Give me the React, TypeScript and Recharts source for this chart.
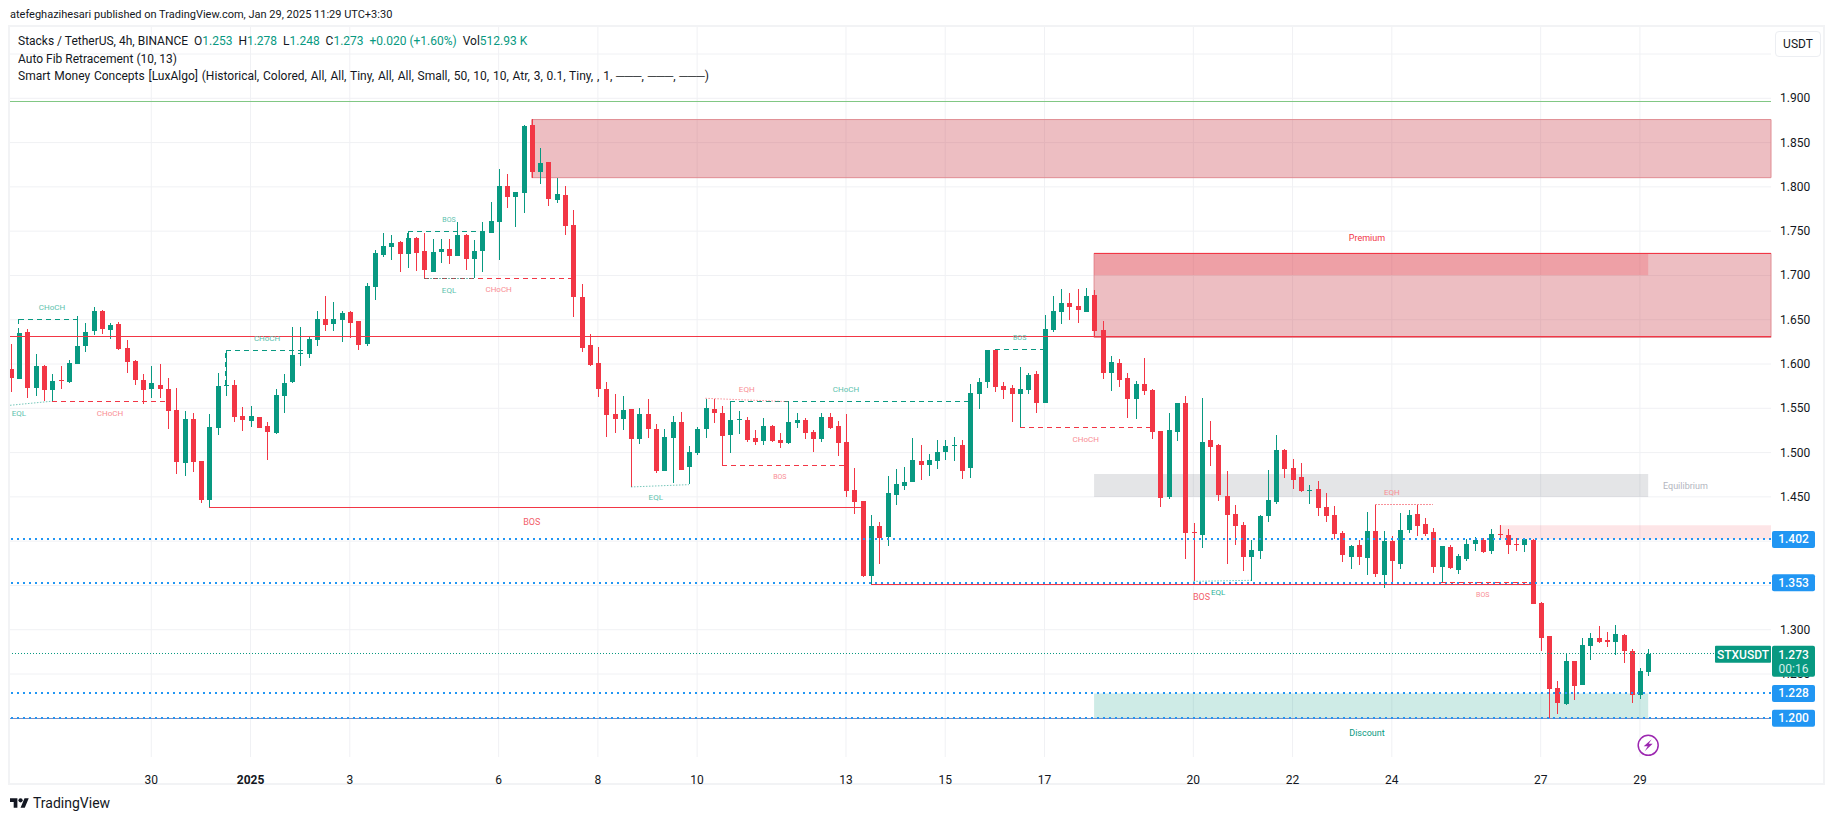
import {
    Bar,
    CartesianGrid,
    ComposedChart,
    ReferenceArea,
    ReferenceDot,
    ReferenceLine,
    XAxis,
    YAxis,
} from 'recharts';

const UP = '#089981';
const DOWN = '#f23645';
const BLUE = '#2196f3';
const FONT = 'Roboto, sans-serif';

const opens = [
    1.594, 1.583, 1.636, 1.573, 1.598, 1.571, 1.582, 1.579, 1.600, 1.620,
    1.637, 1.660, 1.638, 1.645, 1.618, 1.603, 1.582, 1.571, 1.576, 1.572,
    1.548, 1.488, 1.538, 1.491, 1.447, 1.528, 1.575, 1.576, 1.541, 1.535,
    1.540, 1.530, 1.522, 1.564, 1.579, 1.611, 1.611, 1.627, 1.651, 1.645,
    1.650, 1.659, 1.649, 1.622, 1.687, 1.723, 1.732, 1.738, 1.724, 1.742,
    1.728, 1.704, 1.727, 1.730, 1.722, 1.746, 1.719, 1.727, 1.749, 1.760,
    1.801, 1.788, 1.793, 1.870, 1.817, 1.828, 1.785, 1.791, 1.757, 1.676,
    1.622, 1.601, 1.572, 1.543, 1.538, 1.549, 1.515, 1.543, 1.527, 1.480,
    1.517, 1.535, 1.484, 1.500, 1.526, 1.549, 1.545, 1.520, 1.537, 1.537,
    1.517, 1.513, 1.530, 1.514, 1.511, 1.534, 1.537, 1.523, 1.515, 1.540,
    1.530, 1.512, 1.458, 1.445, 1.361, 1.417, 1.404, 1.453, 1.463, 1.467,
    1.491, 1.486, 1.491, 1.500, 1.508, 1.509, 1.482, 1.566, 1.580, 1.616,
    1.575, 1.573, 1.566, 1.571, 1.589, 1.556, 1.638, 1.659, 1.669, 1.665,
    1.659, 1.678, 1.638, 1.590, 1.601, 1.584, 1.560, 1.577, 1.571, 1.524,
    1.449, 1.523, 1.556, 1.410, 1.407, 1.514, 1.509, 1.451, 1.431, 1.418,
    1.382, 1.389, 1.428, 1.444, 1.503, 1.483, 1.472, 1.457, 1.459, 1.438,
    1.430, 1.409, 1.383, 1.396, 1.382, 1.412, 1.362, 1.400, 1.375, 1.413,
    1.431, 1.419, 1.410, 1.371, 1.393, 1.367, 1.380, 1.396, 1.401, 1.389,
    1.408, 1.407, 1.397, 1.395, 1.401, 1.330, 1.293, 1.234, 1.217, 1.265,
    1.238, 1.282, 1.291, 1.288, 1.286, 1.294, 1.276, 1.226, 1.253,
];

const highs = [
    1.623, 1.635, 1.639, 1.611, 1.599, 1.589, 1.598, 1.604, 1.654, 1.646,
    1.664, 1.661, 1.646, 1.647, 1.627, 1.605, 1.589, 1.598, 1.600, 1.584,
    1.573, 1.547, 1.545, 1.491, 1.543, 1.590, 1.616, 1.582, 1.552, 1.553,
    1.540, 1.535, 1.572, 1.589, 1.642, 1.642, 1.632, 1.660, 1.677, 1.670,
    1.660, 1.660, 1.649, 1.691, 1.729, 1.748, 1.746, 1.739, 1.750, 1.743,
    1.748, 1.741, 1.741, 1.741, 1.760, 1.747, 1.740, 1.760, 1.783, 1.820,
    1.815, 1.794, 1.870, 1.877, 1.844, 1.828, 1.810, 1.801, 1.774, 1.690,
    1.634, 1.619, 1.580, 1.566, 1.564, 1.549, 1.550, 1.561, 1.532, 1.527,
    1.541, 1.546, 1.507, 1.529, 1.561, 1.560, 1.553, 1.558, 1.547, 1.540,
    1.526, 1.539, 1.531, 1.522, 1.557, 1.545, 1.539, 1.526, 1.545, 1.545,
    1.536, 1.544, 1.483, 1.445, 1.430, 1.422, 1.473, 1.482, 1.484, 1.517,
    1.509, 1.498, 1.514, 1.514, 1.518, 1.514, 1.577, 1.584, 1.616, 1.617,
    1.580, 1.576, 1.597, 1.590, 1.592, 1.655, 1.677, 1.685, 1.680, 1.685,
    1.686, 1.684, 1.649, 1.609, 1.606, 1.590, 1.581, 1.607, 1.572, 1.524,
    1.545, 1.556, 1.564, 1.420, 1.562, 1.536, 1.510, 1.479, 1.441, 1.422,
    1.401, 1.429, 1.480, 1.520, 1.504, 1.493, 1.488, 1.463, 1.468, 1.454,
    1.440, 1.412, 1.396, 1.401, 1.433, 1.441, 1.412, 1.406, 1.432, 1.435,
    1.441, 1.426, 1.415, 1.395, 1.396, 1.386, 1.402, 1.405, 1.403, 1.414,
    1.418, 1.414, 1.404, 1.404, 1.402, 1.331, 1.293, 1.242, 1.273, 1.265,
    1.291, 1.296, 1.304, 1.297, 1.305, 1.295, 1.278, 1.257, 1.278,
];

const lows = [
    1.568, 1.583, 1.562, 1.564, 1.558, 1.558, 1.572, 1.579, 1.600, 1.614,
    1.633, 1.634, 1.628, 1.616, 1.590, 1.576, 1.555, 1.562, 1.562, 1.527,
    1.476, 1.473, 1.478, 1.443, 1.438, 1.520, 1.564, 1.535, 1.524, 1.529,
    1.528, 1.492, 1.521, 1.545, 1.579, 1.598, 1.607, 1.620, 1.637, 1.637,
    1.625, 1.629, 1.616, 1.620, 1.672, 1.721, 1.717, 1.704, 1.708, 1.705,
    1.697, 1.704, 1.714, 1.713, 1.722, 1.706, 1.697, 1.704, 1.749, 1.717,
    1.776, 1.755, 1.771, 1.810, 1.803, 1.778, 1.782, 1.746, 1.653, 1.614,
    1.598, 1.563, 1.518, 1.522, 1.526, 1.461, 1.510, 1.517, 1.477, 1.479,
    1.466, 1.480, 1.464, 1.497, 1.517, 1.533, 1.486, 1.500, 1.521, 1.512,
    1.509, 1.508, 1.512, 1.505, 1.510, 1.528, 1.515, 1.501, 1.512, 1.527,
    1.496, 1.450, 1.431, 1.360, 1.351, 1.374, 1.395, 1.441, 1.458, 1.467,
    1.469, 1.474, 1.482, 1.492, 1.491, 1.470, 1.471, 1.549, 1.573, 1.568,
    1.560, 1.535, 1.529, 1.566, 1.545, 1.556, 1.636, 1.645, 1.650, 1.646,
    1.659, 1.630, 1.583, 1.570, 1.574, 1.539, 1.538, 1.565, 1.515, 1.439,
    1.448, 1.513, 1.380, 1.355, 1.392, 1.485, 1.445, 1.374, 1.396, 1.366,
    1.355, 1.380, 1.422, 1.442, 1.471, 1.459, 1.456, 1.442, 1.428, 1.422,
    1.402, 1.376, 1.369, 1.373, 1.362, 1.360, 1.347, 1.353, 1.369, 1.409,
    1.406, 1.406, 1.364, 1.354, 1.368, 1.363, 1.378, 1.389, 1.387, 1.386,
    1.401, 1.386, 1.389, 1.388, 1.329, 1.276, 1.200, 1.205, 1.215, 1.221,
    1.238, 1.266, 1.285, 1.281, 1.272, 1.262, 1.217, 1.222, 1.248,
];

const closes = [
    1.584, 1.635, 1.573, 1.598, 1.571, 1.581, 1.581, 1.601, 1.620, 1.636,
    1.660, 1.640, 1.644, 1.617, 1.602, 1.581, 1.571, 1.578, 1.571, 1.547,
    1.489, 1.538, 1.489, 1.447, 1.529, 1.575, 1.576, 1.540, 1.536, 1.541,
    1.528, 1.523, 1.565, 1.579, 1.610, 1.612, 1.628, 1.651, 1.644, 1.651,
    1.658, 1.647, 1.622, 1.688, 1.725, 1.733, 1.737, 1.725, 1.742, 1.725,
    1.706, 1.727, 1.730, 1.722, 1.746, 1.719, 1.728, 1.750, 1.762, 1.801,
    1.789, 1.794, 1.869, 1.817, 1.827, 1.786, 1.792, 1.756, 1.676, 1.618,
    1.599, 1.572, 1.543, 1.537, 1.548, 1.515, 1.543, 1.526, 1.480, 1.518,
    1.535, 1.481, 1.501, 1.527, 1.550, 1.545, 1.519, 1.537, 1.538, 1.514,
    1.513, 1.530, 1.513, 1.511, 1.535, 1.537, 1.522, 1.515, 1.540, 1.528,
    1.511, 1.457, 1.444, 1.360, 1.417, 1.403, 1.454, 1.465, 1.467, 1.492,
    1.487, 1.492, 1.501, 1.507, 1.509, 1.480, 1.567, 1.580, 1.616, 1.574,
    1.571, 1.566, 1.572, 1.588, 1.556, 1.639, 1.660, 1.669, 1.665, 1.661,
    1.677, 1.637, 1.590, 1.602, 1.582, 1.560, 1.577, 1.569, 1.524, 1.448,
    1.525, 1.556, 1.409, 1.409, 1.512, 1.506, 1.452, 1.430, 1.417, 1.382,
    1.390, 1.428, 1.446, 1.503, 1.481, 1.470, 1.456, 1.458, 1.437, 1.428,
    1.409, 1.384, 1.395, 1.382, 1.412, 1.363, 1.400, 1.377, 1.413, 1.430,
    1.418, 1.408, 1.370, 1.395, 1.369, 1.383, 1.397, 1.401, 1.388, 1.408,
    1.407, 1.396, 1.396, 1.402, 1.329, 1.291, 1.233, 1.217, 1.265, 1.237,
    1.283, 1.291, 1.287, 1.286, 1.295, 1.276, 1.226, 1.253, 1.273,
];

const candles = opens.map((open, i) => ({
    i,
    open,
    close: closes[i],
    range: [lows[i], highs[i]],
}));

// date labels sit on every second day, one bar is 4h
const dateTicks = [17, 29, 41, 59, 71, 83, 101, 113, 125, 143, 155, 167, 185, 197];
const dateLabels = ['30', '2025', '3', '6', '8', '10', '13', '15', '17', '20', '22', '24', '27', '29'];

const gridPrices = [1.2, 1.25, 1.3, 1.35, 1.4, 1.45, 1.5, 1.55, 1.6, 1.65, 1.7, 1.75, 1.8, 1.85, 1.9, 1.95];
const axisPrices = [1.2, 1.228, 1.25, 1.273, 1.3, 1.353, 1.402, 1.45, 1.5, 1.55, 1.6, 1.65, 1.7, 1.75, 1.8, 1.85, 1.9];
const blueTags = [1.2, 1.228, 1.353, 1.402];
const lastPrice = 1.273;

// [bar from, price from, bar to, price to]
const dashedGreen = [
    [1, 1.635, 1, 1.6505], [1, 1.6505, 8, 1.6505],
    [26, 1.576, 26, 1.6155], [26, 1.6155, 36, 1.6155],
    [48, 1.742, 48, 1.7498], [48, 1.7498, 58, 1.7498],
    [87, 1.537, 87, 1.558], [87, 1.558, 116, 1.558],
    [119, 1.6166, 125, 1.6166],
];
const dashedRed = [
    [5, 1.5579, 19, 1.5579],
    [50, 1.6968, 68, 1.6968],
    [86, 1.4857, 101, 1.4857],
    [122, 1.5285, 138, 1.5285],
    [173, 1.3532, 184, 1.3532],
];
const solidRed = [
    [24, 1.4383, 103, 1.4383],
    [104, 1.3513, 184, 1.3513],
];
const dottedGreen = [
    [-0.08, 1.5534, 5, 1.558],
    [50, 1.6965, 56, 1.6965],
    [75, 1.4612, 82, 1.4638],
    [143, 1.3546, 150, 1.3558],
];
const dottedRed = [
    [84, 1.5613, 94, 1.5575],
    [165, 1.441, 172, 1.441],
];

// [text, bar, price, colour, size]
const smcLabels: [string, number, number, string, number][] = [
    ['CHoCH', 5, 1.6647, '#5cc2ae', 8],
    ['CHoCH', 12, 1.5444, '#f98d94', 8],
    ['EQL', 1, 1.5444, '#5cc2ae', 8],
    ['CHoCH', 31, 1.629, '#5cc2ae', 8],
    ['BOS', 63, 1.4216, '#f2606b', 9],
    ['BOS', 53, 1.764, '#5cc2ae', 7],
    ['CHoCH', 59, 1.6844, '#f98d94', 8],
    ['EQL', 53, 1.683, '#5cc2ae', 8],
    ['EQH', 89, 1.5715, '#f98d94', 8],
    ['CHoCH', 101, 1.5722, '#5cc2ae', 8],
    ['BOS', 93, 1.473, '#f98d94', 7],
    ['EQL', 78, 1.4503, '#5cc2ae', 8],
    ['BOS', 122, 1.631, '#5cc2ae', 7],
    ['CHoCH', 130, 1.5157, '#f98d94', 8],
    ['BOS', 144, 1.3366, '#f2606b', 9],
    ['EQL', 146, 1.3422, '#2fb39a', 8],
    ['EQH', 167, 1.4552, '#f98d94', 8],
    ['BOS', 178, 1.3408, '#f98d94', 7],
    ['Premium', 164, 1.7427, DOWN, 9],
    ['Equilibrium', 202.5, 1.4626, '#b2b5be', 9],
    ['Discount', 164, 1.1836, UP, 9],
];

const CandleShape = (props: any) => {
    const { x, y, width, height, payload } = props;
    const [low, high] = payload.range;
    const pxPerPrice = height / (high - low);
    const top = Math.max(payload.open, payload.close);
    const bottom = Math.min(payload.open, payload.close);
    const color = payload.close >= payload.open ? UP : DOWN;
    const center = Math.round(x + width / 2);
    const bodyY = y + (high - top) * pxPerPrice;
    const bodyH = Math.max((top - bottom) * pxPerPrice, 1);
    return (
        <g shapeRendering="crispEdges">
            <rect x={center - 0.5} y={y} width={1} height={height} fill={color} />
            <rect x={center - 2.5} y={Math.round(bodyY)} width={5} height={Math.max(Math.round(bodyH), 1)} fill={color} />
        </g>
    );
};

const DateTick = (props: any) => {
    const { x, y, payload } = props;
    const label = dateLabels[dateTicks.indexOf(payload.value)];
    return (
        <text
            x={x}
            y={y}
            dy={19}
            textAnchor="middle"
            fontFamily={FONT}
            fontSize={12}
            fontWeight={label === '2025' ? 700 : 400}
            fill="#131722"
        >
            {label}
        </text>
    );
};

const PriceTick = (props: any) => {
    const { y, payload } = props;
    const value = payload.value;
    const left = 1772;
    const text = value.toFixed(3);
    if (blueTags.includes(value)) {
        return (
            <g>
                <rect x={left} y={y - 8.5} width={43} height={17} rx={2} fill={BLUE} />
                <text x={left + 21.5} y={y + 4} textAnchor="middle" fontFamily={FONT} fontSize={12} fontWeight={500} fill="#fff">
                    {text}
                </text>
            </g>
        );
    }
    if (value === lastPrice) {
        return (
            <g>
                <rect x={1715} y={y - 8} width={56} height={17} rx={1} fill={UP} />
                <text x={1743} y={y + 5} textAnchor="middle" fontFamily={FONT} fontSize={12} fontWeight={500} fill="#fff">
                    STXUSDT
                </text>
                <rect x={left} y={y - 8} width={43} height={31} rx={2} fill={UP} />
                <text x={left + 21.5} y={y + 5} textAnchor="middle" fontFamily={FONT} fontSize={12} fontWeight={500} fill="#fff">
                    {text}
                </text>
                <text x={left + 21.5} y={y + 19} textAnchor="middle" fontFamily={FONT} fontSize={12} fill="#d5efe9">
                    00:16
                </text>
            </g>
        );
    }
    return (
        <text x={1780} y={y + 4} fontFamily={FONT} fontSize={12} fill="#131722">
            {text}
        </text>
    );
};

const BoltIcon = (props: any) => {
    const { cx, cy } = props;
    return (
        <g>
            <circle cx={cx} cy={cy} r={10} fill="#fff" stroke="#9c27b0" strokeWidth={1.5} />
            <path
                d={`M${cx + 3.5} ${cy - 6} L${cx - 4.5} ${cy + 1} L${cx - 0.5} ${cy + 1} L${cx - 3.5} ${cy + 6} L${cx + 4.5} ${cy - 1.5} L${cx + 0.5} ${cy - 1.5} Z`}
                fill="#9c27b0"
            />
        </g>
    );
};

const segments = (rows: number[][], color: string, dash?: string, opacity = 1) =>
    rows.map((r, idx) => (
        <ReferenceLine
            key={`${color}-${dash}-${idx}`}
            segment={[{ x: r[0], y: r[1] }, { x: r[2], y: r[3] }]}
            stroke={color}
            strokeWidth={1}
            strokeDasharray={dash}
            strokeOpacity={opacity}
            shapeRendering={r[1] === r[3] || r[0] === r[2] ? 'crispEdges' : undefined}
        />
    ));

const textStyle = { position: 'absolute', fontFamily: FONT, fontSize: 12, color: '#131722', whiteSpace: 'pre', lineHeight: '16px' } as const;

const App = () => {
    return (
        <div style={{ position: 'absolute', left: 0, top: 0, width: 1835, height: 821, background: '#fff', overflow: 'hidden' }}>
            <div style={{ position: 'absolute', left: 8, top: 25, width: 1817, height: 760, boxSizing: 'border-box', border: '2px solid #f2f3f5' }} />
            <ComposedChart
                width={1835}
                height={821}
                data={candles}
                margin={{ top: 27, right: 0, bottom: 0, left: 10 }}
                style={{ position: 'absolute', left: 0, top: 0 }}
            >
                <CartesianGrid stroke="#f0f1f4" horizontalValues={gridPrices} verticalValues={dateTicks} />
                <XAxis
                    type="number"
                    dataKey="i"
                    domain={[-0.085, 212.85]}
                    allowDataOverflow
                    ticks={dateTicks}
                    interval={0}
                    height={64}
                    tick={<DateTick />}
                    tickLine={false}
                    axisLine={false}
                />
                <YAxis
                    orientation="right"
                    type="number"
                    domain={[1.1563, 1.9805]}
                    allowDataOverflow
                    ticks={axisPrices}
                    interval={0}
                    width={64}
                    tick={<PriceTick />}
                    tickLine={false}
                    axisLine={false}
                />

                <ReferenceArea x1={63} x2={212.85} y1={1.8104} y2={1.876} fill="#cc4650" fillOpacity={0.35} stroke="#e08d93" />
                <ReferenceArea x1={131} x2={212.85} y1={1.63} y2={1.725} fill="#cc4650" fillOpacity={0.35} stroke="#e08d93" />
                <ReferenceArea x1={131} x2={198} y1={1.7002} y2={1.725} fill={DOWN} fillOpacity={0.22} />
                <ReferenceArea x1={131} x2={198} y1={1.4498} y2={1.4758} fill="#787b86" fillOpacity={0.2} />
                <ReferenceArea x1={131} x2={198} y1={1.2} y2={1.228} fill={UP} fillOpacity={0.2} />
                <ReferenceArea x1={180} x2={212.85} y1={1.402} y2={1.418} fill={DOWN} fillOpacity={0.13} />

                <ReferenceLine y={1.8966} stroke="#81c784" strokeWidth={1} shapeRendering="crispEdges" />
                <ReferenceLine y={1.6305} stroke={DOWN} strokeWidth={1} shapeRendering="crispEdges" />
                <ReferenceLine stroke={DOWN} strokeWidth={1} shapeRendering="crispEdges" segment={[{ x: 131, y: 1.725 }, { x: 212.85, y: 1.725 }]} />
                <ReferenceLine y={1.2} stroke="#7e8cc0" strokeWidth={1} shapeRendering="crispEdges" />
                <ReferenceLine y={lastPrice} stroke={UP} strokeWidth={1} strokeDasharray="1 2" shapeRendering="crispEdges" />
                {blueTags.map(p => (
                    <ReferenceLine key={p} y={p} stroke={BLUE} strokeWidth={2} strokeDasharray="2 4" shapeRendering="crispEdges" />
                ))}

                {segments(dashedGreen, UP, '5 4')}
                {segments(dashedRed, DOWN, '5 4')}
                {segments(solidRed, DOWN)}
                {segments(dottedGreen, UP, '1.5 1.5', 0.55)}
                {segments(dottedRed, DOWN, '1.5 1.5', 0.55)}

                <Bar dataKey="range" shape={<CandleShape />} isAnimationActive={false} />

                {smcLabels.map(([text, i, price, color, size], idx) => (
                    <ReferenceDot
                        key={idx}
                        x={i}
                        y={price}
                        r={0}
                        shape={(p: any) => (
                            <text x={p.cx} y={p.cy + 3} textAnchor="middle" fontFamily={FONT} fontSize={size} fill={color}>
                                {text}
                            </text>
                        )}
                    />
                ))}
                <ReferenceDot x={198} y={1.1695} r={0} shape={<BoltIcon />} />
            </ComposedChart>

            <div style={{ ...textStyle, left: 10, top: 7, fontSize: 11 }}>atefeghazihesari published on TradingView.com, Jan 29, 2025 11:29 UTC+3:30</div>
            <div style={{ ...textStyle, left: 18, top: 33 }}>
                Stacks / TetherUS, 4h, BINANCE{'  '}O<span style={{ color: UP }}>1.253</span>{'  '}H<span style={{ color: UP }}>1.278</span>{'  '}L<span style={{ color: UP }}>1.248</span>{'  '}C<span style={{ color: UP }}>1.273</span>{'  '}<span style={{ color: UP }}>+0.020 (+1.60%)</span>{'  '}Vol<span style={{ color: UP }}>512.93 K</span>
            </div>
            <div style={{ ...textStyle, left: 18, top: 51 }}>Auto Fib Retracement (10, 13)</div>
            <div style={{ ...textStyle, left: 18, top: 68, wordSpacing: '0.8px' }}>Smart Money Concepts [LuxAlgo] (Historical, Colored, All, All, Tiny, All, All, Small, 50, 10, 10, Atr, 3, 0.1, Tiny, , 1, ───, ───, ───)</div>

            <div style={{ ...textStyle, left: 1775, top: 31, width: 46, height: 26, boxSizing: 'border-box', border: '1px solid #eceef2', borderRadius: 4, textAlign: 'center', lineHeight: '24px' }}>USDT</div>

            <svg style={{ position: 'absolute', left: 10, top: 798 }} width={19} height={10} viewBox="0 4 36 18">
                <path d="M14 22H7V11H0V4h14v18zM28 22h-8l7.5-18h8L28 22z" fill="#131722" />
                <circle cx={20} cy={8} r={4} fill="#131722" />
            </svg>
            <div style={{ ...textStyle, left: 33, top: 795, fontSize: 14 }}>TradingView</div>
        </div>
    );
};

export default App;
